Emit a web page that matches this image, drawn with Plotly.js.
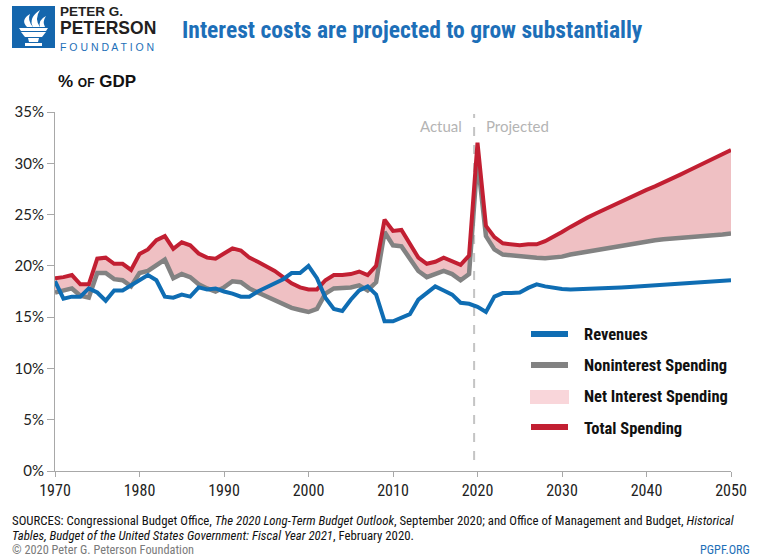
<!DOCTYPE html>
<html>
<head>
<meta charset="utf-8">
<script src="https://cdn.plot.ly/plotly-3.0.1.min.js"></script>
<style>
html,body{margin:0;padding:0;background:#fff;}
#chart{width:758px;height:557px;}
</style>
</head>
<body>
<div id="chart"></div>
<script>
// ---- Data (% of GDP) ----
const years = [];
for (let y = 1970; y <= 2050; y++) years.push(y);

const revenues = [
  18.5, 16.8, 17.0, 17.0, 17.8, 17.4, 16.6, 17.6, 17.6, 18.1,
  18.6, 19.1, 18.6, 17.0, 16.9, 17.2, 17.0, 17.9, 17.7, 17.8,
  17.5, 17.3, 17.0, 17.0, 17.5, 17.9, 18.3, 18.7, 19.3, 19.3,
  20.0, 18.8, 16.9, 15.8, 15.6, 16.7, 17.6, 18.0, 17.2, 14.6,
  14.6, 15.0, 15.3, 16.7, 17.4, 18.0, 17.6, 17.2, 16.4, 16.3,
  16.0, 15.5, 17.0, 17.35, 17.35, 17.4, 17.85, 18.2, 18.0, 17.85,
  17.75, 17.7, 17.72, 17.75, 17.78, 17.82, 17.86, 17.9, 17.95, 18.0,
  18.05, 18.1, 18.15, 18.2, 18.25, 18.3, 18.35, 18.42, 18.48, 18.54,
  18.6
];

const noninterest = [
  17.4, 17.6, 17.8, 17.1, 16.9, 19.3, 19.3, 18.7, 18.6, 18.0,
  19.3, 19.5, 20.1, 20.6, 18.8, 19.2, 18.9, 18.2, 17.8, 17.5,
  17.9, 18.5, 18.4, 17.8, 17.4, 17.0, 16.6, 16.2, 15.9, 15.7,
  15.5, 15.8, 17.3, 17.8, 17.8, 17.9, 18.1, 17.6, 18.4, 23.3,
  22.0, 21.9, 20.7, 19.5, 18.9, 19.2, 19.5, 19.2, 18.6, 19.2,
  30.4, 22.9, 21.6, 21.1, 21.0, 20.95, 20.9, 20.8, 20.75, 20.8,
  20.9, 21.1, 21.25, 21.4, 21.55, 21.7, 21.85, 21.95, 22.1, 22.25,
  22.4, 22.5, 22.6, 22.65, 22.75, 22.8, 22.85, 22.9, 23.0, 23.05,
  23.15
];

const totalSpending = [
  18.8, 18.9, 19.1, 18.2, 18.2, 20.7, 20.8, 20.2, 20.2, 19.6,
  21.15, 21.6, 22.5, 22.9, 21.65, 22.3, 22.0, 21.2, 20.8, 20.7,
  21.2, 21.7, 21.5, 20.8, 20.4, 20.0, 19.5, 18.9, 18.3, 17.9,
  17.7, 17.7, 18.6, 19.1, 19.1, 19.2, 19.45, 19.1, 20.0, 24.5,
  23.4, 23.5, 22.1, 20.8, 20.2, 20.4, 20.8, 20.5, 20.1, 21.0,
  32.0, 23.9, 22.8, 22.2, 22.1, 22.0, 22.1, 22.1, 22.4, 22.8,
  23.3, 23.8, 24.3, 24.7, 25.1, 25.5, 25.85, 26.2, 26.6, 27.0,
  27.4, 27.75, 28.1, 28.5, 28.9, 29.3, 29.7, 30.1, 30.5, 30.9,
  31.3
];

const yTicks = [0, 5, 10, 15, 20, 25, 30, 35];
const yTickLabels = ['0%', '5%', '10%', '15%', '20%', '25%', '30%', '35%'];
const xTicks = [1970, 1980, 1990, 2000, 2010, 2020, 2030, 2040, 2050];
const legendNames = ['Revenues', 'Noninterest Spending', 'Net Interest Spending', 'Total Spending'];
const splitYear = 2019.6;

// ---- Styling ----
const BLUE = '#0f6db3';
const GRAY = '#828282';
const RED = '#c21f32';
const FILL = '#efc0c3';
const TITLE_BLUE = '#1d6fb8';

const W = 758, H = 557;
const M = {l: 55, r: 27, t: 112, b: 86};
const PW = W - M.l - M.r, PH = H - M.t - M.b;
const px = x => (x - M.l) / PW;
const py = y => (H - M.b - y) / PH;

const traces = [
  {x: years, y: noninterest, type: 'scatter', mode: 'lines', line: {width: 0, color: GRAY},
   showlegend: false, hoverinfo: 'skip'},
  {x: years, y: totalSpending, type: 'scatter', mode: 'lines', fill: 'tonexty', fillcolor: FILL,
   line: {width: 0, color: FILL}, name: legendNames[2], showlegend: false},
  {x: years, y: noninterest, type: 'scatter', mode: 'lines', name: legendNames[1],
   line: {color: GRAY, width: 4.5}, showlegend: false},
  {x: years, y: totalSpending, type: 'scatter', mode: 'lines', name: legendNames[3],
   line: {color: RED, width: 4}, showlegend: false},
  {x: years, y: revenues, type: 'scatter', mode: 'lines', name: legendNames[0],
   line: {color: BLUE, width: 4}, showlegend: false}
];

const FONT = 'Lato, "Open Sans", Arial, sans-serif';
const NARROW = '"Liberation Sans Narrow", "Roboto Condensed", "Arial Narrow", Roboto, sans-serif';
const SANS = '"Liberation Sans", Arial, sans-serif';

const ann = (text, x, y, opts) => Object.assign({
  text: text, xref: 'paper', yref: 'paper', x: px(x), y: py(y),
  showarrow: false, xanchor: 'left', yanchor: 'middle'
}, opts || {});

const annotations = [
  ann('Interest costs are projected to grow substantially', 180, 30,
      {font: {family: NARROW, size: 23.5, color: TITLE_BLUE, weight: 'bold'}}),
  ann('<b><span style="font-size:13.5px">PETER G.</span></b><br>' +
      '<b><span style="font-size:17.5px">PETERSON</span></b><br>' +
      '<span style="font-size:10.5px;color:' + TITLE_BLUE + '">F O U N D A T I O N</span>',
      59, 28, {align: 'left', borderpad: 0, font: {family: SANS, size: 13.6, color: '#231f20'}}),
  ann('<b>% <span style="font-size:12px">OF</span> GDP</b>', 56, 82,
      {font: {family: SANS, size: 17, color: '#111'}}),
  ann('Actual', 464, 126, {xanchor: 'right', font: {family: FONT, size: 15, color: '#b4b4b4'}}),
  ann('Projected', 484, 126, {font: {family: FONT, size: 15, color: '#b4b4b4'}}),
  ann('<b>' + legendNames[0] + '</b>', 582, 334, {font: {family: NARROW, size: 16.5, color: '#111'}}),
  ann('<b>' + legendNames[1] + '</b>', 582, 365, {font: {family: NARROW, size: 16.5, color: '#111'}}),
  ann('<b>' + legendNames[2] + '</b>', 582, 396, {font: {family: NARROW, size: 16.5, color: '#111'}}),
  ann('<b>' + legendNames[3] + '</b>', 582, 428, {font: {family: NARROW, size: 16.5, color: '#111'}}),
  ann('SOURCES: Congressional Budget Office, <i>The 2020 Long-Term Budget Outlook</i>, September 2020; and Office of Management and Budget, <i>Historical</i>',
      11, 520, {borderpad: 0, font: {family: NARROW, size: 12.8, color: '#111'}}),
  ann('<i>Tables, Budget of the United States Government: Fiscal Year 2021</i>, February 2020.',
      11, 535, {borderpad: 0, font: {family: NARROW, size: 12.8, color: '#111'}}),
  ann('© 2020 Peter G. Peterson Foundation', 11, 550, {borderpad: 0, font: {family: NARROW, size: 12.3, color: '#7a7a7a'}}),
  ann('PGPF.ORG', 751, 550, {xanchor: 'right', borderpad: 0, font: {family: NARROW, size: 12.3, color: TITLE_BLUE}})
];

const pline = (x0, y0, x1, y1, color, width) => ({
  type: 'line', xref: 'paper', yref: 'paper',
  x0: px(x0), y0: py(y0), x1: px(x1), y1: py(y1),
  line: {color: color, width: width}
});

// torch logo (white on blue square), pixel path -> paper path
const toPath = pts => pts.map((p, i) => (i ? 'L' : 'M') + px(p[0]).toFixed(5) + ',' + py(p[1]).toFixed(5)).join(' ') + ' Z';
const curvePath = (segs) => segs.map(s => {
  if (s[0] === 'M' || s[0] === 'L') return s[0] + px(s[1]).toFixed(5) + ',' + py(s[2]).toFixed(5);
  if (s[0] === 'Q') return 'Q' + px(s[1]).toFixed(5) + ',' + py(s[2]).toFixed(5) + ' ' + px(s[3]).toFixed(5) + ',' + py(s[4]).toFixed(5);
  return 'Z';
}).join(' ');

const shapes = [
  {type: 'rect', xref: 'paper', yref: 'paper', x0: px(12), x1: px(55), y0: py(6), y1: py(48),
   fillcolor: '#1466ad', line: {width: 0}, layer: 'above'},
  // bowl
  {type: 'path', xref: 'paper', yref: 'paper', path: toPath([[19,28],[48,28],[46,31],[21,31]]),
   fillcolor: '#ffffff', line: {width: 0}},
  {type: 'path', xref: 'paper', yref: 'paper', path: toPath([[21,32],[46,32],[42,37],[25,37]]),
   fillcolor: '#ffffff', line: {width: 0}},
  {type: 'path', xref: 'paper', yref: 'paper', path: toPath([[28,38],[39,38],[38,42],[29,42]]),
   fillcolor: '#ffffff', line: {width: 0}},
  {type: 'path', xref: 'paper', yref: 'paper', path: toPath([[25,43],[42,43],[42,46],[25,46]]),
   fillcolor: '#ffffff', line: {width: 0}},
  // flames
  {type: 'path', xref: 'paper', yref: 'paper',
   path: curvePath([['M',27,27],['Q',20,20,30,14],['Q',27,20,33,27],['Z']]),
   fillcolor: '#ffffff', line: {width: 0}},
  {type: 'path', xref: 'paper', yref: 'paper',
   path: curvePath([['M',33,27],['Q',28,18,40,10],['Q',34,19,40,27],['Z']]),
   fillcolor: '#ffffff', line: {width: 0}},
  {type: 'path', xref: 'paper', yref: 'paper',
   path: curvePath([['M',40,27],['Q',38,20,46,16],['Q',42,22,45,27],['Z']]),
   fillcolor: '#ffffff', line: {width: 0}},
  // actual / projected divider
  {type: 'line', xref: 'x', yref: 'paper', x0: splitYear, x1: splitYear, y0: py(460), y1: py(114),
   line: {color: '#c4c4c4', width: 2, dash: 'dash'}, layer: 'below'},
  // legend keys
  pline(531, 334, 568, 334, BLUE, 6),
  pline(531, 365, 568, 365, GRAY, 6),
  {type: 'rect', xref: 'paper', yref: 'paper', x0: px(530), x1: px(569), y0: py(390), y1: py(404),
   fillcolor: '#f9d6da', line: {width: 0}},
  pline(531, 427, 568, 427, RED, 6)
];

const layout = {
  width: W, height: H,
  margin: M,
  paper_bgcolor: '#ffffff', plot_bgcolor: '#ffffff',
  showlegend: false,
  font: {family: FONT, color: '#222'},
  xaxis: {
    range: [1970, 2050], tickvals: xTicks, ticktext: xTicks.map(String),
    showgrid: false, zeroline: false, showline: true, linecolor: '#a8a8a8', linewidth: 1,
    ticks: 'outside', ticklen: 5, tickcolor: '#a8a8a8',
    tickfont: {family: NARROW, size: 16, color: '#222'}, fixedrange: true
  },
  yaxis: {
    range: [0, 35], tickvals: yTicks, ticktext: yTickLabels,
    showgrid: false, zeroline: false, showline: true, linecolor: '#a8a8a8', linewidth: 1,
    ticks: 'outside', ticklen: 7, tickcolor: '#a8a8a8',
    tickfont: {family: FONT, size: 15, color: '#222'}, fixedrange: true
  },
  annotations: annotations,
  shapes: shapes
};

Plotly.newPlot('chart', traces, layout, {displayModeBar: false, staticPlot: true});
</script>
</body>
</html>
